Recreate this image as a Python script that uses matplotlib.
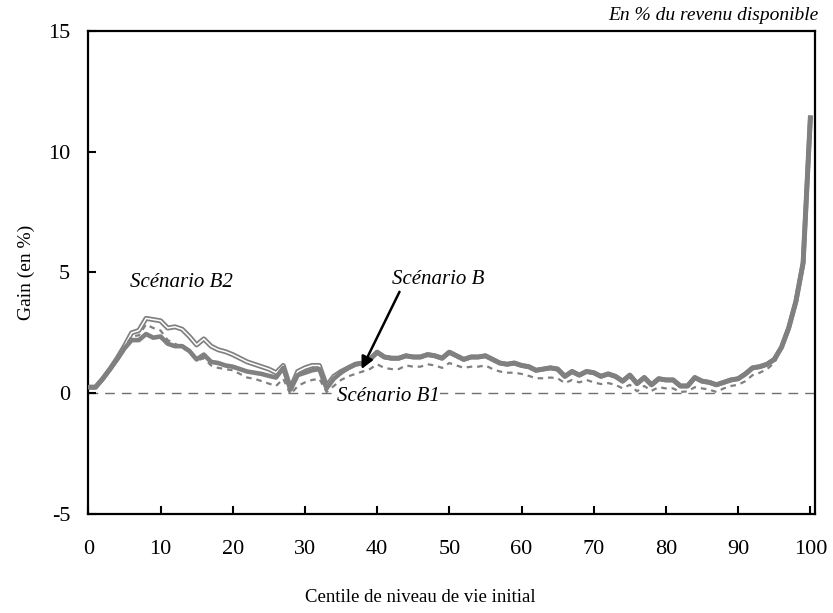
import numpy as np
import matplotlib
matplotlib.use("Agg")
import matplotlib.pyplot as plt

plt.rcParams['font.family'] = ['Liberation Serif', 'DejaVu Serif']
plt.rcParams['axes.unicode_minus'] = False

# centiles 0..100
centiles = list(range(101))

scen_b = [0.25, 0.25, 0.6, 1.0, 1.4, 1.85, 2.2, 2.2, 2.45, 2.3,
          2.35, 2.05, 1.95, 1.95, 1.75, 1.4, 1.6, 1.3, 1.25, 1.15,
          1.1, 1.0, 0.9, 0.85, 0.8, 0.72, 0.65, 1.05, 0.15, 0.75,
          0.85, 0.95, 1.0, 0.2, 0.6, 0.85, 1.05, 1.2, 1.25, 1.4,
          1.7, 1.5, 1.45, 1.45, 1.55, 1.5, 1.5, 1.6, 1.55, 1.45,
          1.7, 1.55, 1.4, 1.5, 1.5, 1.55, 1.4, 1.25, 1.2, 1.25,
          1.15, 1.1, 0.95, 1.0, 1.05, 1.0, 0.7, 0.9, 0.75, 0.9,
          0.85, 0.7, 0.8, 0.7, 0.5, 0.75, 0.4, 0.65, 0.35, 0.6,
          0.55, 0.55, 0.3, 0.3, 0.65, 0.5, 0.45, 0.35, 0.45, 0.55,
          0.6, 0.8, 1.05, 1.1, 1.2, 1.4, 1.9, 2.7, 3.8, 5.4,
          11.4]

scen_b2 = [0.25, 0.25, 0.6, 1.0, 1.45, 1.95, 2.5, 2.6, 3.1, 3.05,
           3.0, 2.7, 2.75, 2.65, 2.35, 2.0, 2.25, 1.95, 1.8, 1.72,
           1.6, 1.45, 1.3, 1.2, 1.1, 1.0, 0.85, 1.15, 0.2, 0.9,
           1.05, 1.15, 1.15, 0.3, 0.7, 0.9, 1.05, 1.2, 1.25, 1.4,
           1.7, 1.5, 1.45, 1.45, 1.55, 1.5, 1.5, 1.6, 1.55, 1.45,
           1.7, 1.55, 1.4, 1.5, 1.5, 1.55, 1.4, 1.25, 1.2, 1.25,
           1.15, 1.1, 0.95, 1.0, 1.05, 1.0, 0.7, 0.9, 0.75, 0.9,
           0.85, 0.7, 0.8, 0.7, 0.5, 0.75, 0.4, 0.65, 0.35, 0.6,
           0.55, 0.55, 0.3, 0.3, 0.65, 0.5, 0.45, 0.35, 0.45, 0.55,
           0.6, 0.8, 1.05, 1.1, 1.2, 1.4, 1.9, 2.7, 3.8, 5.4,
           11.4]

scen_b1 = [0.25, 0.25, 0.6, 1.0, 1.4, 1.9, 2.35, 2.4, 2.85, 2.7,
           2.6, 2.2, 2.05, 1.9, 1.7, 1.35, 1.45, 1.15, 1.05, 1.0,
           0.95, 0.8, 0.65, 0.6, 0.5, 0.4, 0.3, 0.6, -0.05, 0.3,
           0.45, 0.55, 0.6, 0.05, 0.3, 0.55, 0.7, 0.8, 0.9, 1.0,
           1.2, 1.05, 1.0, 1.0, 1.15, 1.1, 1.1, 1.2, 1.15, 1.05,
           1.25, 1.15, 1.05, 1.1, 1.1, 1.15, 1.0, 0.9, 0.85, 0.85,
           0.8, 0.72, 0.62, 0.62, 0.65, 0.62, 0.42, 0.55, 0.45, 0.55,
           0.45, 0.38, 0.42, 0.35, 0.2, 0.35, 0.08, 0.3, 0.1, 0.25,
           0.2, 0.2, 0.05, 0.08, 0.25, 0.2, 0.15, 0.05, 0.2, 0.3,
           0.35, 0.5, 0.75, 0.85, 1.0, 1.25, 1.85, 2.65, 3.75, 5.35,
           11.35]

x_ticks = [0, 10, 20, 30, 40, 50, 60, 70, 80, 90, 100]
y_ticks = [-5, 0, 5, 10, 15]

grey = '#808080'

fig = plt.figure(figsize=(8.33, 6.13), dpi=100)
ax = fig.add_axes([0.106, 0.1615, 0.872, 0.788])

ax.axhline(0, color='#707070', lw=1, dashes=(7, 5), zorder=1)

# B2 : double line (grey with white core)
ax.plot(centiles, scen_b2, color=grey, lw=3.6, zorder=2)
ax.plot(centiles, scen_b2, color='white', lw=1.1, zorder=2.1)
# B : thick grey
ax.plot(centiles, scen_b, color=grey, lw=3.3, zorder=3)
# B1 : dashed
ax.plot(centiles, scen_b1, color=grey, lw=1.6, dashes=(2.5, 2.2), zorder=4)

ax.set_xlim(0, 100.6)
ax.set_ylim(-5, 15)
ax.set_xticks(x_ticks)
ax.set_yticks(y_ticks)
ax.tick_params(axis='both', direction='in', length=6, width=1.5, labelsize=16)
ax.tick_params(axis='x', pad=19)
ax.tick_params(axis='y', pad=13)
for s in ax.spines.values():
    s.set_linewidth(1.6)

ax.set_ylabel('Gain (en %)', fontsize=14, labelpad=9)
fig.text(0.505, 0.018, 'Centile de niveau de vie initial', fontsize=13.5, ha='center')
fig.text(0.982, 0.975, 'En % du revenu disponible', fontsize=14, style='italic',
         ha='right', va='center')

ax.text(5.8, 4.6, 'Scénario B2', fontsize=15, style='italic', va='center')
ax.text(34.4, -0.12, 'Scénario B1', fontsize=15, style='italic', va='center',
        bbox=dict(facecolor='white', edgecolor='none', pad=0), zorder=5)
ax.text(42.0, 4.7, 'Scénario B', fontsize=15, style='italic', va='center')
ax.annotate('', xy=(37.85, 1.0), xytext=(43.1, 4.2),
            arrowprops=dict(arrowstyle='-|>', color='black', lw=1.8,
                            mutation_scale=18, shrinkA=0, shrinkB=0))

fig.savefig('out.png', dpi=100)
